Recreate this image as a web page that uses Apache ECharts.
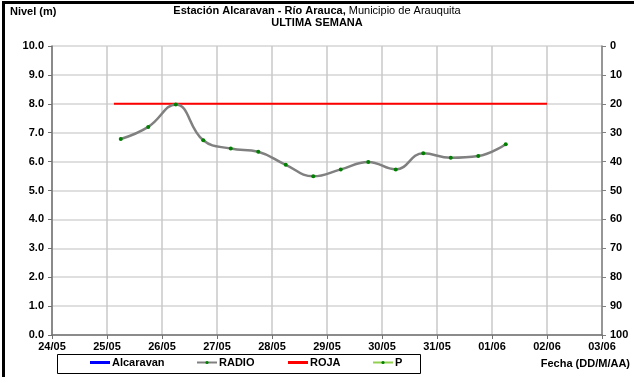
<!DOCTYPE html>
<html><head><meta charset="utf-8">
<script src="https://cdn.jsdelivr.net/npm/echarts@6/dist/echarts.min.js"></script>
<style>html,body{margin:0;padding:0;background:#fff}#c{width:634px;height:377px}</style>
</head><body><div id="c"></div>
<script>
// Data
const radioTimes = ['2019-05-25T06:00','2019-05-25T18:00','2019-05-26T06:00','2019-05-26T18:00','2019-05-27T06:00','2019-05-27T18:00','2019-05-28T06:00','2019-05-28T18:00','2019-05-29T06:00','2019-05-29T18:00','2019-05-30T06:00','2019-05-30T18:00','2019-05-31T06:00','2019-05-31T18:00','2019-06-01T06:00'];
const radioValues = [6.78,7.20,7.98,6.74,6.45,6.34,5.89,5.49,5.73,5.99,5.73,6.29,6.13,6.19,6.60];
const rojaTimes = ['2019-05-25T03:00','2019-06-02T00:00'];
const rojaValues = [8.0,8.0];
const alcaravanValues = [];
const pValues = [];
const xMinDate = '2019-05-24T00:00';
const xMaxDate = '2019-06-03T00:00';
const leftTicks = {min:0,max:10,interval:1};
const rightTicks = {min:0,max:100,interval:10};

const toMs = s => Date.parse(s + ':00Z');
const DAY = 86400000;
const pad = n => (n<10?'0':'')+n;
const radioData = radioTimes.map((t,i)=>[toMs(t), radioValues[i]]);
const rojaData = rojaTimes.map((t,i)=>[toMs(t), rojaValues[i]]);

const FONT = 'Liberation Sans, Arial, sans-serif';
const chart = echarts.init(document.getElementById('c'), null, {renderer:'canvas'});
const legendBase = {top:357, itemWidth:20, itemGap:0, textStyle:{fontFamily:FONT,fontWeight:'bold',fontSize:11,color:'#000',padding:[0,0,0,-3]}, padding:0};
chart.setOption({
  animation:false,
  grid:{left:52, right:32, top:46, bottom:42},
  graphic:[
    {type:'rect', shape:{x:3.5,y:2.5,width:700,height:500}, style:{fill:'none',stroke:'#000',lineWidth:3}, silent:true},
    {type:'rect', shape:{x:57.5,y:354.5,width:363,height:19}, style:{fill:'#fff',stroke:'#000',lineWidth:1}, silent:true, z:-1},
    {type:'text', left:10, top:6, style:{text:'Nivel (m)', font:'bold 11px '+FONT, fill:'#000'}},
    {type:'text', x:317, y:5, style:{text:'{b|Estación Alcaravan - Río Arauca,}{n| Municipio de Arauquita}', align:'center', rich:{b:{font:'bold 11px '+FONT,fill:'#000'},n:{font:'11px '+FONT,fill:'#000'}}}},
    {type:'text', x:317, y:17, style:{text:'ULTIMA SEMANA', align:'center', font:'bold 11px '+FONT, fill:'#000'}},
    {type:'text', right:4, top:358, style:{text:'Fecha (DD/M/AA)', font:'bold 11px '+FONT, fill:'#000'}}
  ],
  legend:[
    Object.assign({}, legendBase, {left:90, itemHeight:3, data:[{name:'Alcaravan',icon:'rect'}]}),
    Object.assign({}, legendBase, {left:196, itemHeight:4, data:['RADIO']}),
    Object.assign({}, legendBase, {left:288, itemHeight:3, data:[{name:'ROJA',icon:'rect'}]}),
    Object.assign({}, legendBase, {left:372, itemHeight:4, data:['P']})
  ],
  xAxis:{type:'value', min:toMs(xMinDate), max:toMs(xMaxDate), interval:DAY,
    axisLine:{lineStyle:{color:'#707070',width:1.5}},
    axisTick:{show:true,length:4,lineStyle:{color:'#707070'}},
    splitLine:{show:true,lineStyle:{color:'#c8c8c8',width:1.5}},
    axisLabel:{fontFamily:FONT,fontWeight:'bold',fontSize:11,color:'#000',margin:6,
      formatter:v=>{const d=new Date(v);return pad(d.getUTCDate())+'/'+pad(d.getUTCMonth()+1);}}
  },
  yAxis:[
    {type:'value', min:leftTicks.min, max:leftTicks.max, interval:leftTicks.interval, position:'left',
      axisLine:{show:true,lineStyle:{color:'#707070',width:1.5}},
      axisTick:{show:true,length:4,lineStyle:{color:'#707070'}},
      splitLine:{show:true,lineStyle:{color:'#d4d4d4',width:1.5}},
      axisLabel:{fontFamily:FONT,fontWeight:'bold',fontSize:11,color:'#000',margin:8,formatter:v=>v.toFixed(1)}},
    {type:'value', min:rightTicks.min, max:rightTicks.max, interval:rightTicks.interval, position:'right', inverse:true,
      axisLine:{show:true,lineStyle:{color:'#808080',width:1.5}},
      axisTick:{show:true,length:4,inside:false,lineStyle:{color:'#808080'}},
      splitLine:{show:false},
      axisLabel:{fontFamily:FONT,fontWeight:'bold',fontSize:11,color:'#000',margin:8}}
  ],
  series:[
    {name:'Alcaravan', type:'line', data:alcaravanValues, showSymbol:false, symbol:'none', lineStyle:{color:'#0000ff',width:2}, itemStyle:{color:'#0000ff'}},
    {name:'RADIO', type:'line', data:radioData, smooth:0.45, symbol:'circle', symbolSize:4, lineStyle:{color:'#808080',width:2.5}, itemStyle:{color:'#008000'}, z:3},
    {name:'ROJA', type:'line', data:rojaData, symbol:'none', lineStyle:{color:'#ff0000',width:2}, itemStyle:{color:'#ff0000'}, z:2},
    {name:'P', type:'line', yAxisIndex:1, data:pValues, symbol:'circle', symbolSize:4, lineStyle:{color:'#92d050',width:2}, itemStyle:{color:'#008000'}}
  ]
});
</script></body></html>
